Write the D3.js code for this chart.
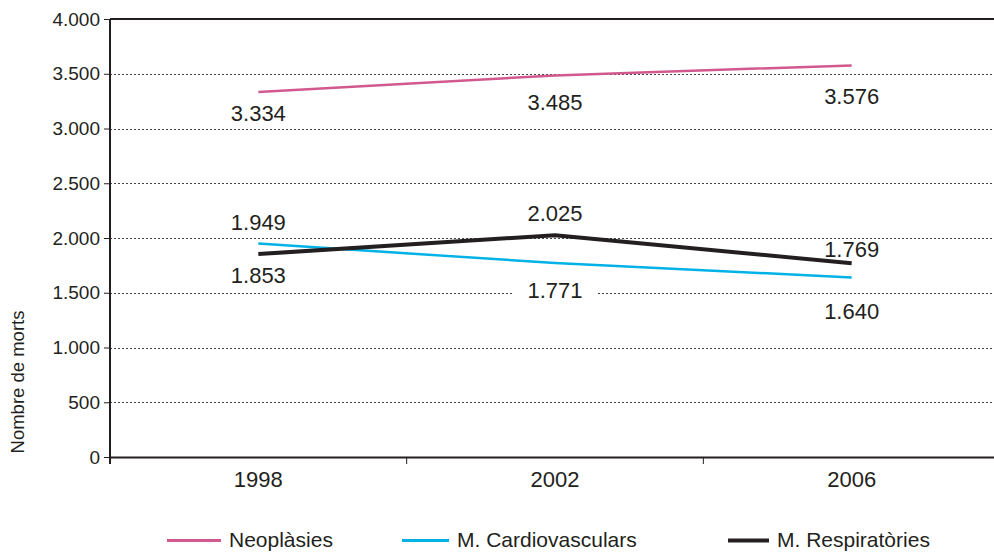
<!DOCTYPE html>
<html>
<head>
<meta charset="utf-8">
<script src="https://cdn.jsdelivr.net/npm/d3@7"></script>
<style>
  body { margin: 0; background: #fff; }
  text { font-family: "Liberation Sans", Arial, sans-serif; fill: #231f20; }
</style>
</head>
<body>
<div id="chart"></div>
<script>
// dades
const years = ["1998", "2002", "2006"];
const neoplasies = [3334, 3485, 3576];
const cardiovasculars = [1949, 1771, 1640];
const respiratories = [1853, 2025, 1769];
const yTicks = [0, 500, 1000, 1500, 2000, 2500, 3000, 3500, 4000];

const series = [
  { name: "Neoplàsies", values: neoplasies, color: "#d1598f", width: 2.5 },
  { name: "M. Cardiovasculars", values: cardiovasculars, color: "#00b2e6", width: 2.5 },
  { name: "M. Respiratòries", values: respiratories, color: "#231f20", width: 4 },
];

// desplaçament vertical de les etiquetes (posició, no dades)
const labelDy = [
  [21, 27, 31],
  [-22, 27, 34],
  [21, -22, -14],
];
const legendX = [167, 402, 728];
const legendLen = [54, 47, 41];

const WIDTH = 994;
const HEIGHT = 552;

const svg = d3.select("#chart").append("svg")
  .attr("width", WIDTH)
  .attr("height", HEIGHT);

const x = d3.scaleBand().domain(years).range([110, 1000]).padding(0);
const y = d3.scaleLinear().domain([0, 4000]).range([457, 19]);

const fmt = (v) => d3.format(",")(v).replace(/,/g, ".");

// línies de graella
svg.append("g")
  .selectAll("line")
  .data(yTicks.filter((t) => t > 0 && t < 4000))
  .join("line")
  .attr("x1", 110)
  .attr("x2", 1000)
  .attr("y1", (d) => Math.round(y(d)) + 0.5)
  .attr("y2", (d) => Math.round(y(d)) + 0.5)
  .attr("stroke", "#444")
  .attr("stroke-width", 1)
  .attr("stroke-dasharray", "2,2");

// vora superior
svg.append("line")
  .attr("x1", 110).attr("x2", 1000)
  .attr("y1", y(4000)).attr("y2", y(4000))
  .attr("stroke", "#231f20").attr("stroke-width", 2);

// eix Y
const yAxis = svg.append("g")
  .attr("transform", "translate(110,0)")
  .call(d3.axisLeft(y).tickValues(yTicks).tickFormat(fmt).tickSize(6).tickPadding(4));
yAxis.select(".domain").attr("stroke", "#231f20").attr("stroke-width", 2)
  .attr("d", `M0,${y(4000)}V${y(0) + 7}`);
yAxis.selectAll(".tick line").attr("stroke", "#231f20").attr("stroke-width", 1);
yAxis.selectAll(".tick text").style("font-size", "19px").attr("fill", "#231f20")
  .style("font-family", "'Liberation Sans', Arial, sans-serif");

// eix X
const xAxis = svg.append("g")
  .attr("transform", `translate(0,${y(0)})`)
  .call(d3.axisBottom(x).tickSize(0).tickPadding(14));
xAxis.select(".domain").attr("stroke", "#231f20").attr("stroke-width", 2);
xAxis.selectAll(".tick text").style("font-size", "22px").attr("fill", "#231f20")
  .style("font-family", "'Liberation Sans', Arial, sans-serif");
// marques entre categories
svg.append("g")
  .selectAll("line")
  .data(years.slice(1))
  .join("line")
  .attr("x1", (d) => x(d))
  .attr("x2", (d) => x(d))
  .attr("y1", y(0))
  .attr("y2", y(0) + 7)
  .attr("stroke", "#231f20")
  .attr("stroke-width", 1);

// títol eix Y
svg.append("text")
  .attr("transform", "translate(24,382) rotate(-90)")
  .attr("text-anchor", "middle")
  .style("font-size", "18.5px")
  .text("Nombre de morts");

const cx = (i) => x(years[i]) + x.bandwidth() / 2;

// fons blanc de les etiquetes
const labelLayer = svg.append("g");
series.forEach((s, si) => {
  s.values.forEach((v, i) => {
    labelLayer.append("rect")
      .attr("x", cx(i) - 43)
      .attr("y", y(v) + labelDy[si][i] - 10)
      .attr("width", 86)
      .attr("height", 20)
      .attr("fill", "#fff");
  });
});

// línies
const line = d3.line()
  .x((d, i) => cx(i))
  .y((d) => y(d));

svg.append("g")
  .selectAll("path")
  .data(series)
  .join("path")
  .attr("d", (d) => line(d.values))
  .attr("fill", "none")
  .attr("stroke", (d) => d.color)
  .attr("stroke-width", (d) => d.width)
  .attr("stroke-linejoin", "round");

// etiquetes de valors
series.forEach((s, si) => {
  s.values.forEach((v, i) => {
    svg.append("text")
      .attr("x", cx(i))
      .attr("y", y(v) + labelDy[si][i])
      .attr("dy", "0.36em")
      .attr("text-anchor", "middle")
      .style("font-size", "22px")
      .text(fmt(v));
  });
});

// llegenda
const legend = svg.append("g");
series.forEach((s, i) => {
  legend.append("line")
    .attr("x1", legendX[i])
    .attr("x2", legendX[i] + legendLen[i])
    .attr("y1", 540.5)
    .attr("y2", 540.5)
    .attr("stroke", s.color)
    .attr("stroke-width", i === 2 ? 4 : 3);
  legend.append("text")
    .attr("x", legendX[i] + legendLen[i] + 8)
    .attr("y", 546.5)
    .style("font-size", "21px")
    .text(s.name);
});
</script>
</body>
</html>
